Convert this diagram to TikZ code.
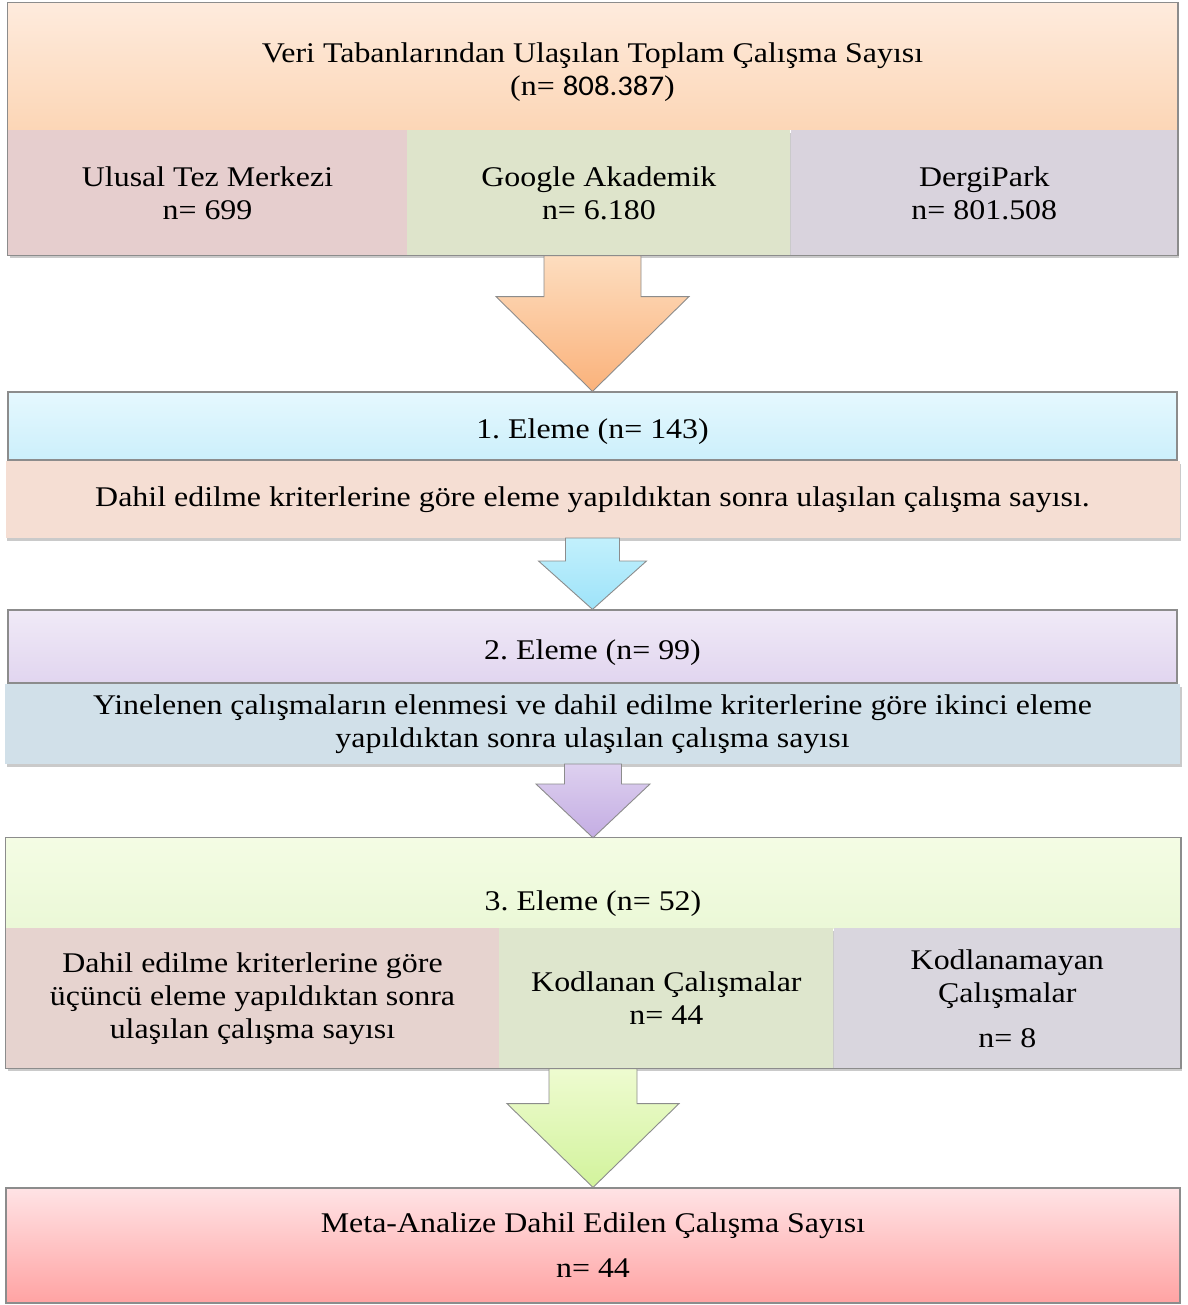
\documentclass[tikz,border=0pt]{standalone}
\usepackage{fontspec}
\setmainfont{Liberation Serif}[FakeStretch=1.12]
\newfontfamily\calfont{Carlito}[FakeStretch=1.08]
\frenchspacing
\usetikzlibrary{positioning,calc,shadows}
\definecolor{totA}{HTML}{FEEBDD}
\definecolor{totB}{HTML}{FCD6B6}
\definecolor{ulusalc}{HTML}{E6CECE}
\definecolor{googlec}{HTML}{DEE4CB}
\definecolor{dergic}{HTML}{D9D3DD}
\definecolor{elemeAa}{HTML}{E5F8FE}
\definecolor{elemeAb}{HTML}{CCEFFB}
\definecolor{critA}{HTML}{F5DED3}
\definecolor{elemeBa}{HTML}{F0EAF7}
\definecolor{elemeBb}{HTML}{E1D5EF}
\definecolor{critB}{HTML}{D1E0E9}
\definecolor{elemeCa}{HTML}{F4FCE4}
\definecolor{elemeCb}{HTML}{EBF8D7}
\definecolor{kodAc}{HTML}{E6D3CF}
\definecolor{kodBc}{HTML}{DEE6CD}
\definecolor{kodCc}{HTML}{D9D6DE}
\definecolor{metaA}{HTML}{FFE3E5}
\definecolor{metaB}{HTML}{FFA3A3}
\definecolor{arrAa}{HTML}{FDDDBF}
\definecolor{arrAb}{HTML}{FAB27B}
\definecolor{arrBa}{HTML}{C2F0FC}
\definecolor{arrBb}{HTML}{9EE3F9}
\definecolor{arrCa}{HTML}{DDD0EF}
\definecolor{arrCb}{HTML}{C4ADE3}
\definecolor{arrDa}{HTML}{EEFBD0}
\definecolor{arrDb}{HTML}{D2F39C}
\tikzset{
  boxline/.style={draw=gray!90, line width=1.2pt},
  part/.style={inner sep=0pt, align=center, font=\fontsize{28.5}{33}\selectfont},
  lowshadow/.style={drop shadow={shadow xshift=1.5pt, shadow yshift=-3pt, opacity=.35, fill=black!60}},
  arrowline/.style={line width=0.9pt, line join=miter, draw=gray!90}
}
\newcommand\blockarrow[7]{
  \def\S{#3} \def\H{#4} \def\L{#5}
  \path (#1.south -| #2.north) coordinate (o);
  \draw[arrowline, top color=#6, bottom color=#7]
    ($(o)+(-\S,0)$) -- ($(o)+(-\S,\L)$) -- ($(o)+(-\H,\L)$) -- (#2.north)
    -- ($(o)+(\H,\L)$) -- ($(o)+(\S,\L)$) -- ($(o)+(\S,0)$) -- cycle;
}
\begin{document}
\begin{tikzpicture}[x=1pt, y=-1pt]
\useasboundingbox (0,0) rectangle (1187,1305);

\node[part, top color=totA, bottom color=totB, minimum width=1169, minimum height=127, text height=58pt, text depth=0pt] (total) at (592.5,66.5)
  {Veri Tabanlarından Ulaşılan Toplam Çalışma Sayısı\\(n= {\calfont 808.387})};
\node[part, lowshadow, fill=ulusalc, minimum width=399, minimum height=125, anchor=north west] (ulusal) at (total.south west)
  {Ulusal Tez Merkezi\\n= 699};
\node[part, lowshadow, fill=googlec, minimum width=383, minimum height=125, right=0pt of ulusal] (google)
  {Google Akademik\\n= 6.180};
\node[part, lowshadow, fill=dergic, minimum width=387, minimum height=125, right=0pt of google] (dergi)
  {DergiPark\\n= 801.508};
\draw[boxline] (total.north west) rectangle (dergi.south east);

\node[part, boxline, top color=elemeAa, bottom color=elemeAb, minimum width=1169, minimum height=68, text height=31pt, text depth=6pt] (eleme1) at (592.5,426)
  {1. Eleme (n= 143)};
\node[part, lowshadow, fill=critA, minimum width=1174, minimum height=77, below=0pt of eleme1] (crit1)
  {Dahil edilme kriterlerine göre eleme yapıldıktan sonra ulaşılan çalışma sayısı.};

\node[part, boxline, top color=elemeBa, bottom color=elemeBb, minimum width=1169, minimum height=73, text height=31pt, text depth=6pt] (eleme2) at (592.5,646.5)
  {2. Eleme (n= 99)};
\node[part, lowshadow, fill=critB, minimum width=1175, minimum height=80, below=0pt of eleme2] (crit2)
  {Yinelenen çalışmaların elenmesi ve dahil edilme kriterlerine göre ikinci eleme\\yapıldıktan sonra ulaşılan çalışma sayısı};

\node[part, top color=elemeCa, bottom color=elemeCb, minimum width=1174, minimum height=90, text height=60pt, text depth=6pt] (eleme3) at (593,883)
  {3. Eleme (n= 52)};
\node[part, lowshadow, fill=kodAc, minimum width=493, minimum height=140, anchor=north west] (kod1) at (eleme3.south west)
  {Dahil edilme kriterlerine göre\\üçüncü eleme yapıldıktan sonra\\ulaşılan çalışma sayısı};
\node[part, lowshadow, fill=kodBc, minimum width=334, minimum height=140, right=0pt of kod1] (kod2)
  {Kodlanan Çalışmalar\\n= 44};
\node[part, lowshadow, fill=kodCc, minimum width=347, minimum height=140, right=0pt of kod2] (kod3)
  {Kodlanamayan\\Çalışmalar\\[12pt]n= 8};
\draw[boxline] (eleme3.north west) rectangle (kod3.south east);

\node[part, boxline, top color=metaA, bottom color=metaB, minimum width=1174, minimum height=115] (meta) at (593,1245.5)
  {Meta-Analize Dahil Edilen Çalışma Sayısı\\[12pt]n= 44};

\blockarrow{google}{eleme1}{48.5}{96.5}{41}{arrAa}{arrAb}
\blockarrow{crit1}{eleme2}{27}{54}{23}{arrBa}{arrBb}
\blockarrow{crit2}{eleme3}{28.5}{57}{20}{arrCa}{arrCb}
\blockarrow{kod2}{meta}{44}{86}{35}{arrDa}{arrDb}
\end{tikzpicture}
\end{document}
